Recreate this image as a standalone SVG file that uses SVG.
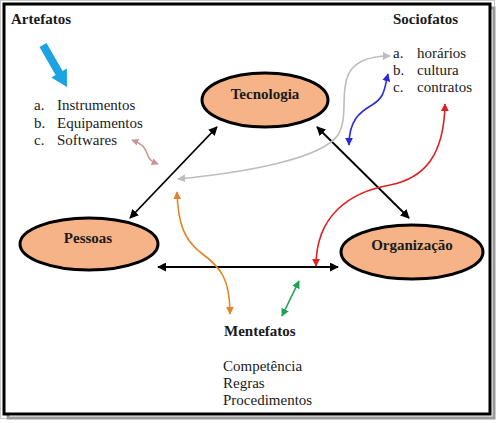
<svg xmlns="http://www.w3.org/2000/svg" width="498" height="423" viewBox="0 0 498 423">
<style>
.t{font-family:"Liberation Serif","Times New Roman",serif;font-size:15px;fill:#1a1a1a}
.b{font-weight:bold}
.node{fill:#F5B387;stroke:#000;stroke-width:3}
.c{fill:none;stroke-width:1.6}
</style>
<defs>
<marker id="ak" viewBox="0 0 10 10" refX="9" refY="5" markerWidth="9" markerHeight="9" markerUnits="userSpaceOnUse" orient="auto-start-reverse"><path d="M0,0 L10,5 L0,10 z" fill="#000"/></marker>
<marker id="ag" viewBox="0 0 10 10" refX="9" refY="5" markerWidth="8" markerHeight="8" markerUnits="userSpaceOnUse" orient="auto-start-reverse"><path d="M0,0 L10,5 L0,10 z" fill="#BDBDBD"/></marker>
<marker id="ab" viewBox="0 0 10 10" refX="9" refY="5" markerWidth="8" markerHeight="8" markerUnits="userSpaceOnUse" orient="auto-start-reverse"><path d="M0,0 L10,5 L0,10 z" fill="#2A2ADB"/></marker>
<marker id="ar" viewBox="0 0 10 10" refX="9" refY="5" markerWidth="8" markerHeight="8" markerUnits="userSpaceOnUse" orient="auto-start-reverse"><path d="M0,0 L10,5 L0,10 z" fill="#E02020"/></marker>
<marker id="ao" viewBox="0 0 10 10" refX="9" refY="5" markerWidth="8" markerHeight="8" markerUnits="userSpaceOnUse" orient="auto-start-reverse"><path d="M0,0 L10,5 L0,10 z" fill="#E0862A"/></marker>
<marker id="an" viewBox="0 0 10 10" refX="9" refY="5" markerWidth="8" markerHeight="8" markerUnits="userSpaceOnUse" orient="auto-start-reverse"><path d="M0,0 L10,5 L0,10 z" fill="#1FA055"/></marker>
<marker id="ap" viewBox="0 0 10 10" refX="9" refY="5" markerWidth="7" markerHeight="7" markerUnits="userSpaceOnUse" orient="auto-start-reverse"><path d="M0,0 L10,5 L0,10 z" fill="#C99494"/></marker>
</defs>
<g id="frame">
<rect x="0.5" y="0.5" width="494" height="418" fill="none" stroke="#c8c8c8" stroke-width="1"/>
<rect x="8" y="8" width="486" height="410" fill="none" stroke="#9a9a9a" stroke-width="3"/>
<rect x="4" y="4" width="486" height="410" fill="#fff" stroke="#000" stroke-width="3"/>
</g>
<g id="connectors">
<line x1="130" y1="218" x2="217" y2="127" stroke="#000" stroke-width="1.8" marker-start="url(#ak)" marker-end="url(#ak)"/>
<line x1="317" y1="127" x2="409" y2="218" stroke="#000" stroke-width="1.8" marker-start="url(#ak)" marker-end="url(#ak)"/>
<line x1="158" y1="267" x2="338" y2="267" stroke="#000" stroke-width="1.8" marker-start="url(#ak)" marker-end="url(#ak)"/>
<path class="c" stroke="#BDBDBD" d="M178,179 C250,172 322,158 338,135 C348,118 341,95 347,78 C352,62 368,56 390,56" marker-start="url(#ag)" marker-end="url(#ag)"/>
<path class="c" stroke="#2A2ADB" d="M349,145 C349,120 360,112 372,105 C385,97 384,90 388,74" marker-start="url(#ab)" marker-end="url(#ab)"/>
<path class="c" stroke="#E02020" d="M445,104 C444,155 425,178 390,185 C350,192 316,215 316,266" marker-start="url(#ar)" marker-end="url(#ar)"/>
<path class="c" stroke="#E0862A" d="M177,192 C178,225 185,240 200,252 C222,268 230,280 230,314" marker-start="url(#ao)" marker-end="url(#ao)"/>
<line x1="299" y1="281" x2="282" y2="316" stroke="#1FA055" stroke-width="1.6" marker-start="url(#an)" marker-end="url(#an)"/>
<path class="c" stroke="#C99494" d="M132,140 C145,145 146,150 148,156 C150,161 153,162 158,164" marker-start="url(#ap)" marker-end="url(#ap)"/>
<polygon fill="#1BA3E2" points="39.5,47 55.6,75.1 51.3,77.6 67,87 66.9,68.6 62.6,71.1 46.5,43"/>
</g>
<g id="tecnologia">
<ellipse class="node" cx="265" cy="100" rx="63" ry="27"/>
<text class="t b" x="265" y="99" text-anchor="middle">Tecnologia</text>
</g>
<g id="pessoas">
<ellipse class="node" cx="89" cy="244" rx="69" ry="26"/>
<text class="t b" x="88" y="243" text-anchor="middle">Pessoas</text>
</g>
<g id="organizacao">
<ellipse class="node" cx="412" cy="252" rx="71" ry="27"/>
<text class="t b" x="412" y="250" text-anchor="middle">Organização</text>
</g>
<g id="artefatos">
<text class="t b" x="11" y="24">Artefatos</text>
<text class="t" x="34" y="110">a.</text><text class="t" x="57" y="110">Instrumentos</text>
<text class="t" x="34" y="127.5">b.</text><text class="t" x="57" y="127.5">Equipamentos</text>
<text class="t" x="34" y="145">c.</text><text class="t" x="57" y="145">Softwares</text>
</g>
<g id="sociofatos">
<text class="t b" x="393" y="24">Sociofatos</text>
<text class="t" x="393" y="58">a.</text><text class="t" x="417" y="58">horários</text>
<text class="t" x="393" y="75">b.</text><text class="t" x="417" y="75">cultura</text>
<text class="t" x="393" y="92">c.</text><text class="t" x="417" y="92">contratos</text>
</g>
<g id="mentefatos">
<text class="t b" x="224" y="336">Mentefatos</text>
<text class="t" x="223" y="371">Competência</text>
<text class="t" x="223" y="388">Regras</text>
<text class="t" x="223" y="405">Procedimentos</text>
</g>
</svg>
